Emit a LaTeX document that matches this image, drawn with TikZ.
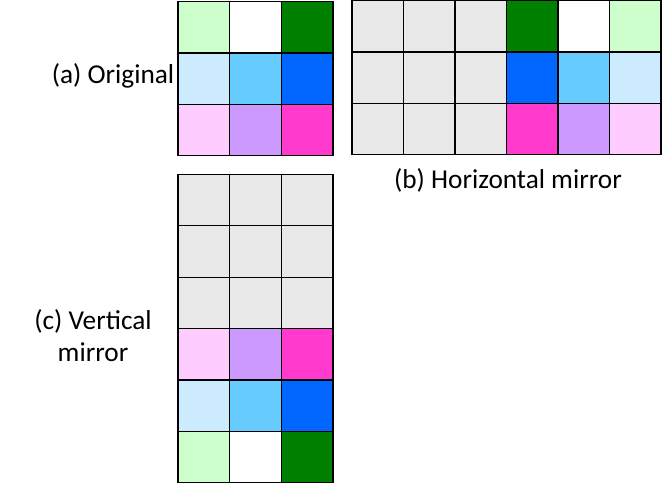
\documentclass[tikz,border=0pt]{standalone}
\usepackage{fontspec}
\setmainfont{Carlito}
\definecolor{lgreen}{HTML}{CCFFCC}
\definecolor{dgreen}{HTML}{008000}
\definecolor{lblue}{HTML}{CCEBFF}
\definecolor{mblue}{HTML}{66CCFF}
\definecolor{dblue}{HTML}{0066FF}
\definecolor{lpink}{HTML}{FFCCFF}
\definecolor{lviolet}{HTML}{CC99FF}
\definecolor{dpink}{HTML}{FF3ACC}
\definecolor{cellgray}{HTML}{E8E8E8}
\tikzset{
  cell/.style={draw=black, line width=1.3pt, minimum width=51.5pt, minimum height=51.5pt, inner sep=0pt, outer sep=0pt, anchor=north west},
  lbl/.style={font=\fontsize{27.3}{32}\selectfont, align=center, inner sep=0pt}
}
\begin{document}
\begin{tikzpicture}[x=1pt,y=-1pt]
\useasboundingbox (0,0) rectangle (665,484);
% (a) original
\foreach \c [count=\i from 0] in {lgreen,white,dgreen,lblue,mblue,dblue,lpink,lviolet,dpink}{
  \pgfmathtruncatemacro{\r}{int(\i/3)}
  \pgfmathtruncatemacro{\k}{mod(\i,3)}
  \node[cell, fill=\c] (a\r\k) at (178+\k*51.7, 1.5+\r*51.4) {};
}
% (b) horizontal mirror
\foreach \c [count=\i from 0] in {cellgray,cellgray,cellgray,dgreen,white,lgreen,cellgray,cellgray,cellgray,dblue,mblue,lblue,cellgray,cellgray,cellgray,dpink,lviolet,lpink}{
  \pgfmathtruncatemacro{\r}{int(\i/6)}
  \pgfmathtruncatemacro{\k}{mod(\i,6)}
  \node[cell, fill=\c] (b\r\k) at (352+\k*51.5, 0.75+\r*51.3) {};
}
% (c) vertical mirror
\foreach \c [count=\i from 0] in {cellgray,cellgray,cellgray,cellgray,cellgray,cellgray,cellgray,cellgray,cellgray,lpink,lviolet,dpink,lblue,mblue,dblue,lgreen,white,dgreen}{
  \pgfmathtruncatemacro{\r}{int(\i/3)}
  \pgfmathtruncatemacro{\k}{mod(\i,3)}
  \node[cell, fill=\c] (c\r\k) at (178+\k*51.7, 174.5+\r*51.35) {};
}
\node[lbl] (la) at (113,76) {(a) Original};
\node[lbl] (lb) at (508,180) {(b) Horizontal mirror};
\node[lbl] (lc) at (93,336) {(c) Vertical\\mirror};
\end{tikzpicture}
\end{document}
